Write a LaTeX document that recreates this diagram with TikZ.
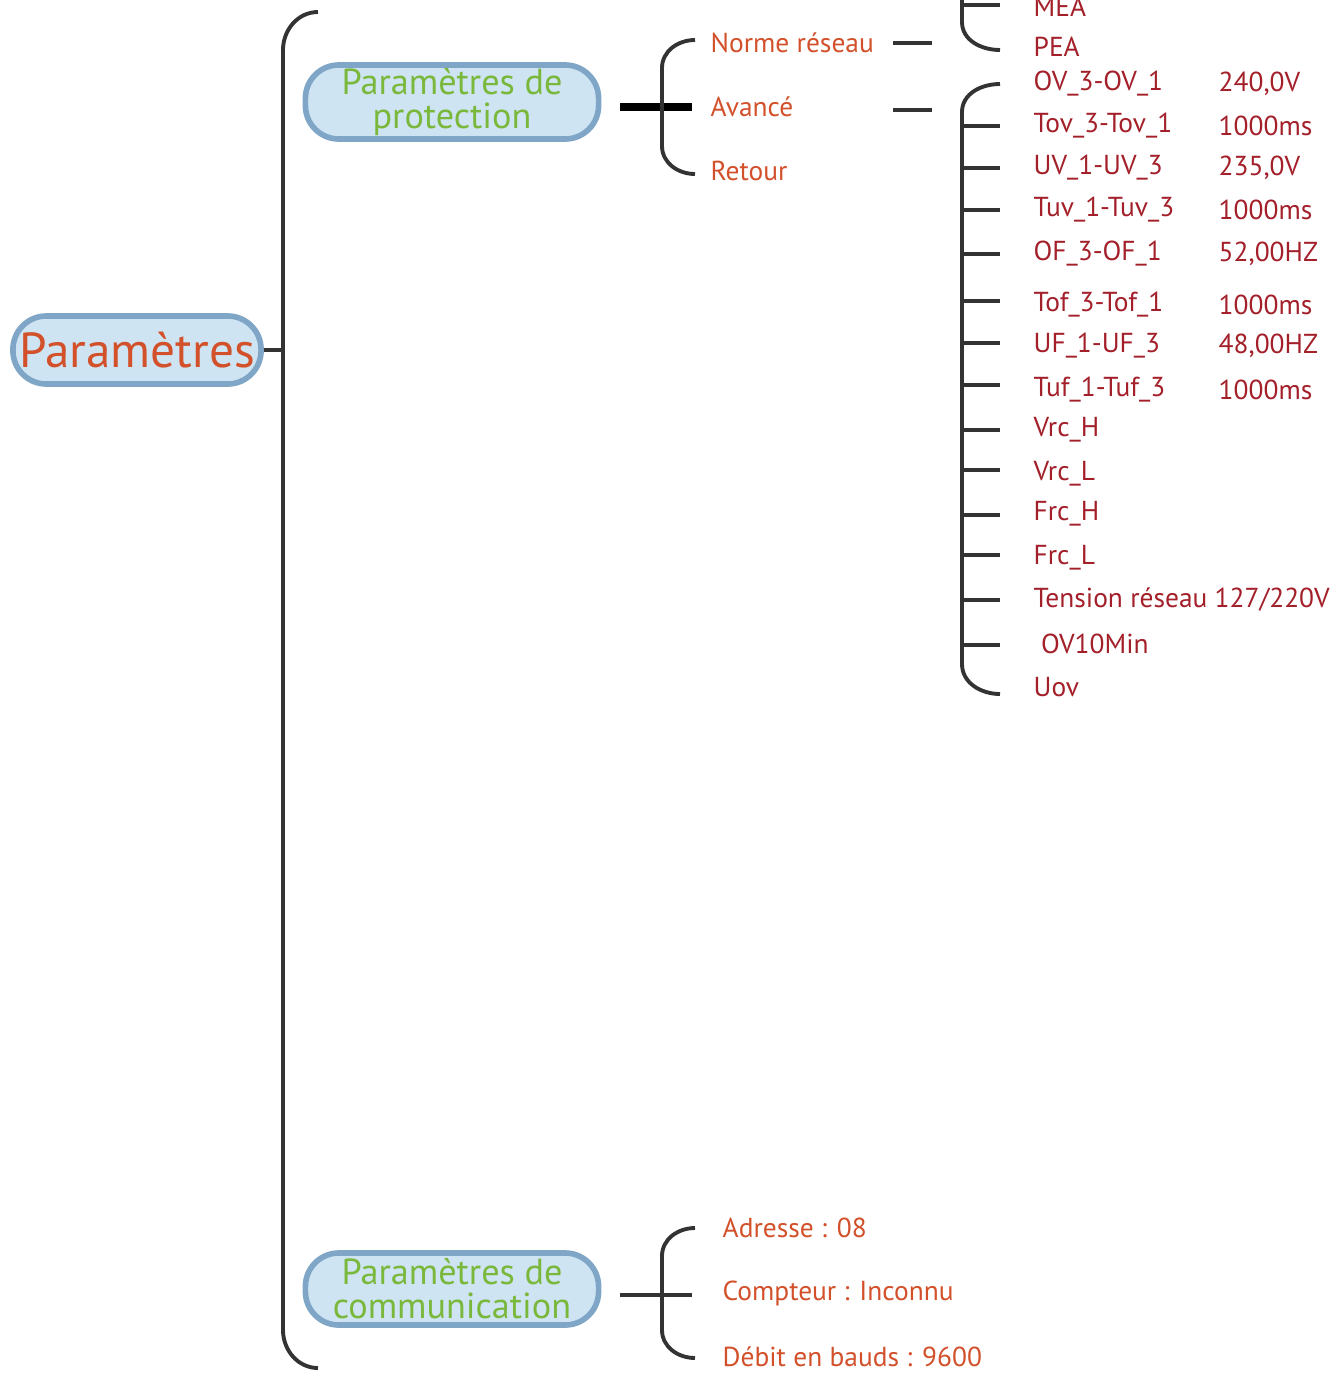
\documentclass[tikz,border=0pt]{standalone}
\usepackage{fontspec}
\setmainfont{PT Sans}
\definecolor{rootred}{HTML}{D2502A}
\definecolor{leafgreen}{HTML}{7AB83C}
\definecolor{leafred}{HTML}{A3202A}
\definecolor{boxfill}{HTML}{CFE4F2}
\definecolor{boxdraw}{HTML}{7FA6C6}
\tikzset{
  pill/.style={draw=boxdraw, fill=boxfill, line width=1.6pt, rounded corners=9.5pt, align=center, inner sep=0pt},
  item/.style={anchor=west, inner sep=0pt, text=rootred, font={\fontsize{7.8}{8}\selectfont}},
  val/.style={anchor=west, inner sep=0pt, text=leafred, font={\fontsize{7.8}{8}\selectfont}},
  brk/.style={line width=1.1pt, black!80}
}
\begin{document}
\begin{tikzpicture}[x=0.01cm, y=-0.01cm]
\useasboundingbox (0,0) rectangle (1335,1378);

\node [pill, text=rootred, font={\fontsize{14}{14}\selectfont},
minimum width=2.48cm, minimum height=0.68cm] (root) at (137,350) {Paramètres};

\node [pill, text=leafgreen, font={\fontsize{10.3}{9.6}\selectfont}, minimum width=2.93cm,
minimum height=0.74cm] (prot) at (452,102) {Paramètres de\\protection};

\node [pill, text=leafgreen, font={\fontsize{10.3}{9.6}\selectfont}, minimum width=2.93cm,
minimum height=0.72cm] (comm) at (452,1289) {Paramètres de\\communication};

% main bracket
\coordinate (b0) at (283,350);
\draw [brk] (root.east) -- (b0);
\draw [brk] (318,12) to[out=180,in=90] (283,50) -- (283,1330) to[out=-90,in=180] (318,1368);

% protection
\coordinate (p0) at (620,107);
\coordinate (p1) at (692,107);
\draw [line width=2pt] (p0) -- (p1);
\draw [brk] (695,40) to[out=180,in=90] (662,68) -- (662,146) to[out=-90,in=180] (695,174);
\node [item] (norme) at (710,43) {Norme réseau};
\node [item] (avance) at (710,107) {Avancé};
\node [item] (retour) at (710,171) {Retour};
\coordinate (n1) at (893,43);
\coordinate (n2) at (932,43);
\coordinate (a1) at (893,110);
\coordinate (a2) at (932,110);
\draw [brk] (n1) -- (n2);
\draw [brk] (a1) -- (a2);

% MEA / PEA
\draw [brk] (962,-5) -- (962,22) to[out=-90,in=180] (1000,50);
\draw [brk] (962,5) -- (1000,5);
\node [val] (mea) at (1033,7) {MEA};
\node [val] (pea) at (1033,47) {PEA};

% advanced list
\draw [brk] (1000,84) to[out=180,in=90] (962,112) -- (962,664) to[out=-90,in=180] (1000,694);
\foreach \y/\txt/\v in {84/OV\_3-OV\_1/240{,}0V, 126/Tov\_3-Tov\_1/1000ms,
  168/UV\_1-UV\_3/235{,}0V, 210/Tuv\_1-Tuv\_3/1000ms, 254/OF\_3-OF\_1/52{,}00HZ,
  305/Tof\_3-Tof\_1/1000ms, 346/UF\_1-UF\_3/48{,}00HZ, 390/Tuf\_1-Tuf\_3/1000ms}
{
  \node [val] at (1033,\y) {\txt};
  \node [val] at (1218,\y) {\v};
}
\foreach \y/\txt in {430/Vrc\_H, 474/Vrc\_L, 514/Frc\_H, 558/Frc\_L,
  600/{Tension réseau 127/220V}, 644/\ OV10Min, 687/Uov}
  \node [val] at (1033,\y) {\txt};
\foreach \y in {126,168,210,254,301,343,385,430,470,515,555,600,645}
  \draw [brk] (962,\y) -- (1000,\y);

% communication
\coordinate (c0) at (620,1295);
\coordinate (c1) at (692,1295);
\draw [brk] (c0) -- (c1);
\draw [brk] (695,1228) to[out=180,in=90] (662,1256) -- (662,1330) to[out=-90,in=180] (695,1358);
\node [item] (adr) at (722,1228) {Adresse : 08};
\node [item] (cpt) at (722,1293) {Compteur : Inconnu};
\node [item] (deb) at (722,1357) {Débit en bauds : 9600};

\end{tikzpicture}
\end{document}
